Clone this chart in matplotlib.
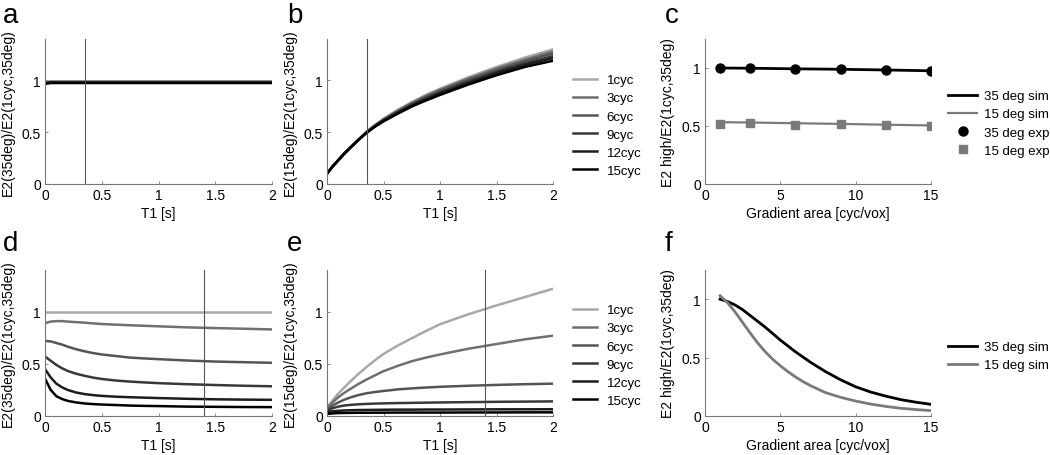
import matplotlib
matplotlib.use('Agg')
import matplotlib.pyplot as plt

plt.rcParams.update({'font.family': 'Liberation Sans', 'font.size': 10})

# T1 sample points [s] for panels a, b, d, e
t1 = [0, 0.05, 0.1, 0.15, 0.2, 0.275, 0.35, 0.425, 0.5, 0.625, 0.75, 0.875, 1, 1.25, 1.5, 1.75, 2]
cyc_labels = ['1cyc', '3cyc', '6cyc', '9cyc', '12cyc', '15cyc']

# panel a: E2(35deg)/E2(1cyc,35deg), nearly flat
a_1 = [0.985] + [0.99] * 16
a_3 = [0.982] + [0.987] * 16
a_6 = [0.978] + [0.984] * 16
a_9 = [0.975] + [0.981] * 16
a_12 = [0.972] + [0.978] * 16
a_15 = [0.968] + [0.975] * 16

# panel b: E2(15deg)/E2(1cyc,35deg)
b_1 = [0.10, 0.17, 0.23, 0.29, 0.345, 0.425, 0.505, 0.57, 0.63, 0.715, 0.79, 0.86, 0.92, 1.03, 1.13, 1.22, 1.30]
b_3 = [0.10, 0.17, 0.23, 0.29, 0.345, 0.425, 0.503, 0.567, 0.625, 0.708, 0.782, 0.85, 0.91, 1.018, 1.115, 1.20, 1.28]
b_6 = [0.10, 0.17, 0.23, 0.29, 0.345, 0.424, 0.50, 0.565, 0.62, 0.70, 0.775, 0.84, 0.90, 1.005, 1.10, 1.185, 1.26]
b_9 = [0.10, 0.17, 0.23, 0.29, 0.344, 0.423, 0.498, 0.56, 0.615, 0.693, 0.765, 0.828, 0.885, 0.99, 1.085, 1.165, 1.235]
b_12 = [0.10, 0.17, 0.23, 0.29, 0.344, 0.422, 0.496, 0.557, 0.61, 0.686, 0.757, 0.818, 0.875, 0.975, 1.07, 1.15, 1.215]
b_15 = [0.10, 0.17, 0.23, 0.29, 0.344, 0.421, 0.494, 0.553, 0.605, 0.678, 0.748, 0.806, 0.86, 0.96, 1.05, 1.13, 1.19]

# panel d: E2(35deg)/E2(1cyc,35deg)
d_1 = [1.0] * 17
d_3 = [0.89, 0.905, 0.91, 0.91, 0.905, 0.90, 0.895, 0.888, 0.882, 0.876, 0.87, 0.865, 0.86, 0.85, 0.843, 0.837, 0.83]
d_6 = [0.72, 0.715, 0.70, 0.685, 0.665, 0.64, 0.62, 0.603, 0.59, 0.575, 0.56, 0.552, 0.545, 0.532, 0.522, 0.516, 0.51]
d_9 = [0.57, 0.53, 0.49, 0.458, 0.432, 0.405, 0.385, 0.368, 0.355, 0.34, 0.33, 0.322, 0.315, 0.305, 0.297, 0.29, 0.285]
d_12 = [0.45, 0.37, 0.31, 0.275, 0.25, 0.225, 0.21, 0.20, 0.193, 0.185, 0.18, 0.176, 0.172, 0.165, 0.16, 0.157, 0.155]
d_15 = [0.36, 0.25, 0.19, 0.163, 0.145, 0.13, 0.12, 0.114, 0.11, 0.105, 0.10, 0.097, 0.095, 0.09, 0.088, 0.086, 0.085]

# panel e: E2(15deg)/E2(1cyc,35deg)
e_1 = [0.08, 0.15, 0.215, 0.27, 0.325, 0.40, 0.47, 0.535, 0.595, 0.675, 0.745, 0.815, 0.88, 0.975, 1.06, 1.14, 1.22]
e_3 = [0.08, 0.13, 0.18, 0.22, 0.255, 0.305, 0.35, 0.39, 0.43, 0.48, 0.525, 0.56, 0.59, 0.645, 0.69, 0.735, 0.77]
e_6 = [0.06, 0.10, 0.13, 0.155, 0.175, 0.20, 0.218, 0.23, 0.24, 0.255, 0.265, 0.273, 0.28, 0.29, 0.298, 0.305, 0.31]
e_9 = [0.05, 0.075, 0.09, 0.10, 0.106, 0.112, 0.116, 0.119, 0.121, 0.124, 0.126, 0.128, 0.13, 0.133, 0.136, 0.138, 0.14]
e_12 = [0.035, 0.045, 0.05, 0.053, 0.055, 0.057, 0.058, 0.059, 0.06, 0.061, 0.061, 0.062, 0.062, 0.063, 0.064, 0.064, 0.065]
e_15 = [0.02, 0.025, 0.028, 0.029, 0.03, 0.031, 0.031, 0.032, 0.032, 0.033, 0.033, 0.033, 0.033, 0.034, 0.034, 0.035, 0.035]

# panel c: gradient area vs normalised E2
grad_exp = [1, 3, 6, 9, 12, 15]
sim35_c = [1.0, 0.998, 0.993, 0.989, 0.983, 0.976]
sim15_c = [0.533, 0.53, 0.524, 0.518, 0.511, 0.505]
exp35 = [1.0, 1.0, 0.99, 0.994, 0.986, 0.977]
exp15 = [0.52, 0.523, 0.506, 0.514, 0.511, 0.503]

# panel f
grad_sim = [1, 1.5, 2, 2.5, 3, 3.5, 4, 4.5, 5, 5.5, 6, 6.5, 7, 8, 9, 10, 11, 12, 13, 14, 15]
sim35_f = [1.0, 0.98, 0.95, 0.91, 0.86, 0.81, 0.76, 0.705, 0.65, 0.60, 0.55, 0.505, 0.46, 0.38,
           0.31, 0.25, 0.205, 0.17, 0.14, 0.118, 0.10]
sim15_f = [1.03, 0.97, 0.89, 0.80, 0.71, 0.625, 0.55, 0.485, 0.43, 0.38, 0.335, 0.295, 0.26, 0.20,
           0.16, 0.128, 0.102, 0.082, 0.066, 0.055, 0.046]

greys = ['#a8a8a8', '#707070', '#555555', '#383838', '#1c1c1c', '#000000']
spine_col = '#777777'

fig = plt.figure(figsize=(10.5, 4.56), dpi=100)

W, H = 1050.0, 456.0
def add_ax(left, top, right, bottom):
    return fig.add_axes([left / W, 1 - bottom / H, (right - left) / W, (bottom - top) / H])

def style(ax):
    for s in ['top', 'right']:
        ax.spines[s].set_visible(False)
    for s in ['left', 'bottom']:
        ax.spines[s].set_color(spine_col)
        ax.spines[s].set_linewidth(0.8)
    ax.tick_params(direction='in', length=2.5, width=0.6, color=spine_col, pad=3, labelsize=10)

def add_legend(ax, x, y, hl, hp):
    ax.legend(loc='upper left', bbox_to_anchor=(x / W, 1 - y / H), bbox_transform=fig.transFigure,
              frameon=False, labelspacing=0.45, borderpad=0, borderaxespad=0,
              fontsize=9.5, handlelength=hl, handletextpad=hp)

def t1_panel(ax, series, vline, ylabel, legend_y=None):
    for ys, c, lab in zip(series, greys, cyc_labels):
        ax.plot(t1, ys, color=c, lw=1.8, label=lab)
    ax.axvline(vline, color='#555555', lw=0.8)
    ax.set_xlim(0, 2)
    ax.set_ylim(0, 1.4)
    ax.set_xticks([0, 0.5, 1, 1.5, 2])
    ax.set_xticklabels(['0', '0.5', '1', '1.5', '2'])
    ax.set_yticks([0, 0.5, 1])
    ax.set_yticklabels(['0', '0.5', '1'])
    ax.set_xlabel('T1 [s]', labelpad=3, fontsize=10)
    ax.set_ylabel(ylabel, labelpad=5, fontsize=10)
    style(ax)
    if legend_y is not None:
        add_legend(ax, 573, legend_y, 1.8, 0.75)

ax_a = add_ax(45, 40, 272, 185)
t1_panel(ax_a, [a_1, a_3, a_6, a_9, a_12, a_15], 0.35, 'E2(35deg)/E2(1cyc,35deg)')
ax_b = add_ax(327, 40, 553, 185)
t1_panel(ax_b, [b_1, b_3, b_6, b_9, b_12, b_15], 0.35, 'E2(15deg)/E2(1cyc,35deg)', legend_y=75)
ax_d = add_ax(45, 271, 272, 417)
t1_panel(ax_d, [d_1, d_3, d_6, d_9, d_12, d_15], 1.4, 'E2(35deg)/E2(1cyc,35deg)')
ax_e = add_ax(327, 271, 553, 417)
t1_panel(ax_e, [e_1, e_3, e_6, e_9, e_12, e_15], 1.4, 'E2(15deg)/E2(1cyc,35deg)', legend_y=305)

def grad_axes(ax):
    ax.set_xlim(0, 15)
    ax.set_ylim(0, 1.25)
    ax.set_xticks([0, 5, 10, 15])
    ax.set_yticks([0, 0.5, 1])
    ax.set_yticklabels(['0', '0.5', '1'])
    ax.set_xlabel('Gradient area [cyc/vox]', labelpad=3, fontsize=10)
    ax.set_ylabel('E2 high/E2(1cyc,35deg)', labelpad=5, fontsize=10)
    style(ax)

ax_c = add_ax(705, 40, 931, 185)
ax_c.plot(grad_exp, sim35_c, color='black', lw=2, label='35 deg sim')
ax_c.plot(grad_exp, sim15_c, color='#7a7a7a', lw=1.6, label='15 deg sim')
ax_c.plot(grad_exp, exp35, 'o', color='black', ms=6.5, label='35 deg exp')
ax_c.plot(grad_exp, exp15, 's', color='#7a7a7a', ms=5.5, label='15 deg exp')
grad_axes(ax_c)
add_legend(ax_c, 948, 91, 2.2, 0.5)

ax_f = add_ax(705, 271, 931, 417)
ax_f.plot(grad_sim, sim35_f, color='black', lw=2, label='35 deg sim')
ax_f.plot(grad_sim, sim15_f, color='#7a7a7a', lw=2, label='15 deg sim')
grad_axes(ax_f)
add_legend(ax_f, 948, 342, 2.2, 0.5)

# panel letters
for lab, x, y in [('a', 3, 23), ('b', 287, 23), ('c', 665, 23),
                  ('d', 3, 251), ('e', 287, 251), ('f', 665, 251)]:
    fig.text(x / W, 1 - y / H, lab, fontsize=20, ha='left', va='baseline')

fig.savefig('out.png', dpi=100)
